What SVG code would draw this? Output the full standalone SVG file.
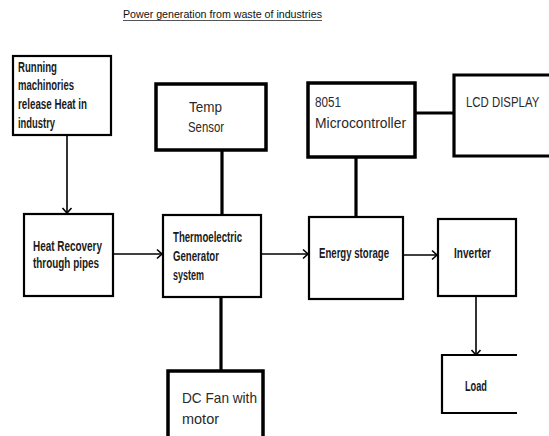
<svg xmlns="http://www.w3.org/2000/svg" width="549" height="436" viewBox="0 0 549 436">
<style>
.box{fill:#fff;stroke:#000;stroke-width:2.2}
.thick{stroke-width:3.5}
.cal{font-family:"Liberation Sans",Arial,sans-serif;font-size:14px;font-weight:bold;fill:#1a1a1a}
.goth{font-family:"Liberation Sans",Arial,sans-serif;font-size:15px;fill:#2a2a2a}
.ln{stroke:#000;stroke-width:1.6;fill:none}
.tl{stroke:#000;stroke-width:3.2;fill:none}
</style>
<defs>
<marker id="chev" markerUnits="userSpaceOnUse" markerWidth="12" markerHeight="12" refX="9" refY="6" orient="auto">
<path d="M4,1.5 L9,6 L4,10.5" fill="none" stroke="#000" stroke-width="1.6"/>
</marker>
</defs>
<rect width="549" height="436" fill="#fff"/>
<g id="title">
<text x="123" y="18" font-family="Liberation Sans, Arial, sans-serif" font-size="11.5px" fill="#111" textLength="199" lengthAdjust="spacingAndGlyphs">Power generation from waste of industries</text>
<line x1="123" y1="20.5" x2="322" y2="20.5" stroke="#555" stroke-width="1"/>
</g>
<g id="connectors">
<line class="ln" x1="67" y1="135" x2="67" y2="213" marker-end="url(#chev)"/>
<line class="ln" x1="113" y1="254" x2="162" y2="254" marker-end="url(#chev)"/>
<line class="ln" x1="261" y1="254" x2="308" y2="254" marker-end="url(#chev)"/>
<line class="ln" x1="403" y1="255" x2="437" y2="255" marker-end="url(#chev)"/>
<line class="ln" x1="476" y1="296" x2="476" y2="355" marker-end="url(#chev)"/>
<line class="tl" x1="222" y1="150" x2="222" y2="215"/>
<line class="tl" x1="221" y1="297" x2="221" y2="371"/>
<line class="tl" x1="356" y1="157" x2="356" y2="217"/>
<line class="tl" x1="415" y1="113" x2="454" y2="113"/>
</g>
<g id="running">
<rect class="box" x="13" y="56" width="98" height="79" stroke-width="2.8"/>
<text class="cal" x="18" y="72" textLength="39" lengthAdjust="spacingAndGlyphs">Running</text>
<text class="cal" x="18" y="90" textLength="56" lengthAdjust="spacingAndGlyphs">machinories</text>
<text class="cal" x="18" y="109" textLength="69" lengthAdjust="spacingAndGlyphs">release Heat in</text>
<text class="cal" x="18" y="128" textLength="37" lengthAdjust="spacingAndGlyphs">industry</text>
</g>
<g id="heat">
<rect class="box" x="24" y="214" width="89" height="82"/>
<text class="cal" x="33" y="251" textLength="69" lengthAdjust="spacingAndGlyphs">Heat Recovery</text>
<text class="cal" x="33" y="268" textLength="66" lengthAdjust="spacingAndGlyphs">through pipes</text>
</g>
<g id="temp">
<rect class="box thick" x="156" y="84" width="110" height="66"/>
<text class="goth" x="189" y="112" textLength="33" lengthAdjust="spacingAndGlyphs">Temp</text>
<text class="goth" transform="translate(188,132) scale(0.76,1)">Sensor</text>
</g>
<g id="teg">
<rect class="box" x="163" y="215" width="98" height="82"/>
<text class="cal" x="173" y="242" textLength="69" lengthAdjust="spacingAndGlyphs">Thermoelectric</text>
<text class="cal" x="173" y="261" textLength="46" lengthAdjust="spacingAndGlyphs">Generator</text>
<text class="cal" x="173" y="280" textLength="31" lengthAdjust="spacingAndGlyphs">system</text>
</g>
<g id="fan">
<path d="M168,436 V371 H263 V436" fill="#fff" stroke="#000" stroke-width="3.5"/>
<text class="goth" x="182" y="403" textLength="75" lengthAdjust="spacingAndGlyphs">DC Fan with</text>
<text class="goth" x="182" y="424" textLength="37" lengthAdjust="spacingAndGlyphs">motor</text>
</g>
<g id="micro">
<rect class="box thick" x="308" y="83" width="107" height="74"/>
<text class="goth" x="315" y="107" textLength="26" lengthAdjust="spacingAndGlyphs">8051</text>
<text class="goth" x="315" y="128" textLength="91" lengthAdjust="spacingAndGlyphs">Microcontroller</text>
</g>
<g id="lcd">
<path d="M549,75 H454 V156 H549" fill="#fff" stroke="#000" stroke-width="3.2"/>
<text class="goth" transform="translate(466,107) scale(0.76,1)">LCD DISPLAY</text>
</g>
<g id="storage">
<rect class="box" x="309" y="217" width="94" height="82"/>
<text class="cal" x="319" y="258" textLength="70" lengthAdjust="spacingAndGlyphs">Energy storage</text>
</g>
<g id="inverter">
<rect class="box" x="438" y="219" width="78" height="77"/>
<text class="cal" x="454" y="258" textLength="37" lengthAdjust="spacingAndGlyphs">Inverter</text>
</g>
<g id="load">
<path d="M517,355 H442 V413 H517" fill="#fff" stroke="#000" stroke-width="2.2"/>
<text class="cal" x="465" y="391" textLength="22" lengthAdjust="spacingAndGlyphs">Load</text>
</g>
</svg>
